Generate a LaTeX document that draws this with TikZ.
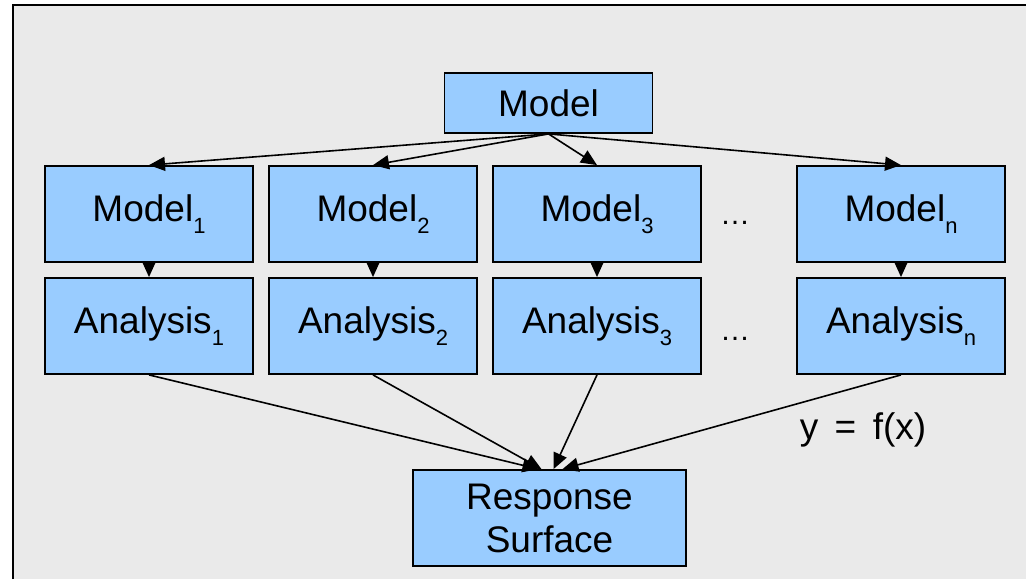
\documentclass[tikz,border=0pt]{standalone}
\usepackage{fontspec}
\setmainfont{Liberation Sans}
\usetikzlibrary{arrows.meta}
\definecolor{boxblue}{HTML}{99CCFF}
\definecolor{bggray}{HTML}{EAEAEA}
\newcommand{\ix}[1]{\raisebox{-6pt}{\fontsize{11}{11}\selectfont #1}}

\begin{document}
\begin{tikzpicture}[x=0.5pt,y=-0.5pt,
    box/.style={draw,fill=boxblue,line width=0.9pt,minimum width=104pt,
      minimum height=48pt,inner sep=0pt,align=center,
      font=\fontsize{18.5}{21.5}\selectfont},
    link/.style={-{Triangle[length=8pt,width=7pt]},line width=0.8pt}]
    \useasboundingbox (0,0) rectangle (1026,579);
    \fill[bggray] (13,5) rectangle (1026,579);
    \draw[line width=1.2pt] (13,579) -- (13,5) -- (1026,5);

    \node[box,minimum height=30pt] (model) at (548.5,103) {Model};

    \node[box] (m1) at (149,214) {Model\ix{1}};
    \node[box] (m2) at (373,214) {Model\ix{2}};
    \node[box] (m3) at (597,214) {Model\ix{3}};
    \node[box] (mn) at (901,214) {Model\ix{n}};

    \node[box] (a1) at (149,326) {Analysis\ix{1}};
    \node[box] (a2) at (373,326) {Analysis\ix{2}};
    \node[box] (a3) at (597,326) {Analysis\ix{3}};
    \node[box] (an) at (901,326) {Analysis\ix{n}};

    \node[anchor=base,font=\fontsize{15}{15}\selectfont] (dots1) at (735,224) {\ldots};
    \node[anchor=base,font=\fontsize{15}{15}\selectfont] (dots2) at (735,340) {\ldots};

    \node[box,minimum width=136.5pt] (rs) at (549.5,518) {Response\\Surface};

    \node[font=\fontsize{18.5}{21.5}\selectfont] (fx) at (863,430) {y\,\ =\ \,f(x)};

    \foreach \m in {m1,m2,m3,mn}
      \draw[link] (model.south) -- (\m.north);
    \foreach \i in {1,2,3,n}
      \draw[link] (m\i.south) -- (a\i.north);

    \draw[link] (a1.south) -- ([xshift=-5.5pt]rs.north);
    \draw[link] (a2.south) -- ([xshift=-4pt]rs.north);
    \draw[link] (a3.south) -- ([xshift=2pt]rs.north);
    \draw[link] (an.south) -- ([xshift=6.5pt]rs.north);
\end{tikzpicture}
\end{document}
